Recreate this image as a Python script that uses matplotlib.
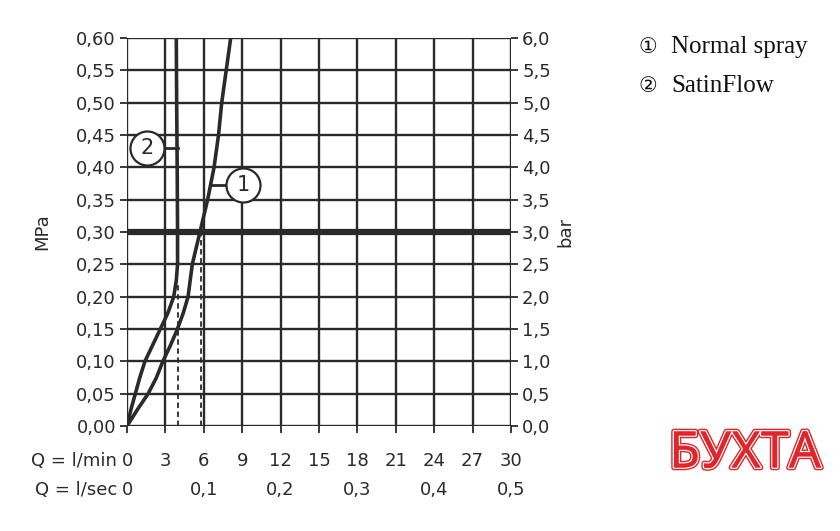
"""Durchflussdiagramm - Druck (MPa / bar) gegen Durchfluss (l/min)"""

import matplotlib
matplotlib.use("Agg")
import matplotlib.pyplot as plt
import matplotlib.patheffects as pe

plt.rcParams["font.family"] = ["DejaVu Sans"]

# Kurve 1: Normal spray (l/min, MPa)
NORMAL_Q = [0.0, 0.8, 1.65, 2.3, 2.8, 3.4, 3.9, 4.4, 4.77, 5.1, 5.7, 6.3, 6.8, 7.15, 7.4, 7.75, 8.1]
NORMAL_P = [0.0, 0.025, 0.05, 0.075, 0.10, 0.125, 0.148, 0.175, 0.20, 0.25, 0.30, 0.35, 0.40, 0.45, 0.50, 0.55, 0.60]

# Kurve 2: SatinFlow
SATIN_Q = [0.0, 0.3, 0.65, 1.0, 1.4, 2.0, 2.6, 3.2, 3.65, 3.85, 3.95, 3.95, 3.92, 3.88, 3.85]
SATIN_P = [0.0, 0.025, 0.05, 0.075, 0.10, 0.125, 0.15, 0.175, 0.20, 0.225, 0.25, 0.30, 0.40, 0.50, 0.60]

# Hilfslinien bei 0,3 MPa
DASH_Q = [3.95, 5.8]
DASH_P = [0.22, 0.30]
REF_P = 0.30

MIN_TICKS = [0, 3, 6, 9, 12, 15, 18, 21, 24, 27, 30]
SEC_TICKS = [0, 6, 12, 18, 24, 30]
SEC_LABELS = ["0", "0,1", "0,2", "0,3", "0,4", "0,5"]
MPA_TICKS = [i * 0.05 for i in range(13)]
BAR_TICKS = [i * 0.5 for i in range(13)]

LEGEND_NUM = ["①", "②"]
LEGEND = ["Normal spray", "SatinFlow"]

DARK = "#2a2a2a"

fig = plt.figure(figsize=(8.4, 5.31), dpi=100)
ax = fig.add_axes([0.1512, 0.1977, 0.4571, 0.7307])
ax.set_xlim(0, 30)
ax.set_ylim(0, 0.60)

for q in MIN_TICKS:
    ax.axvline(q, color=DARK, lw=1.7, zorder=1)
for p in MPA_TICKS:
    ax.axhline(p, color=DARK, lw=1.7, zorder=1)
ax.axhline(REF_P, color=DARK, lw=4.5, zorder=3)

for q, p in zip(DASH_Q, DASH_P):
    ax.plot([q, q], [0, p], color=DARK, lw=1.3, ls=(0, (3, 2)), zorder=2)

ax.plot(NORMAL_Q, NORMAL_P, color=DARK, lw=2.6, zorder=4, solid_capstyle="butt")
ax.plot(SATIN_Q, SATIN_P, color=DARK, lw=2.6, zorder=4, solid_capstyle="butt")

# Kreis-Markierungen mit Führungslinie
for num, cx, cy, lx0, lx1 in [("2", 1.55, 0.43, 2.7, 3.95),
                              ("1", 9.05, 0.373, 6.5, 7.9)]:
    ax.plot([lx0, lx1], [cy, cy], color=DARK, lw=2.0, zorder=4, clip_on=False)
    ax.plot([cx], [cy], marker="o", markersize=24.5, markerfacecolor="white",
            markeredgecolor=DARK, markeredgewidth=1.6, zorder=5, clip_on=False)
    ax.text(cx, cy, num, ha="center", va="center", fontsize=15, color=DARK, zorder=6)

for s in ax.spines.values():
    s.set_visible(False)

ax.set_xticks(MIN_TICKS)
ax.set_xticklabels([])
ax.set_yticks(MPA_TICKS)
ax.set_yticklabels([f"{p:.2f}".replace(".", ",") for p in MPA_TICKS], fontsize=13, color=DARK)
ax.tick_params(axis="both", direction="out", length=5, width=1.3, color=DARK, pad=3)
ax.set_ylabel("MPa", fontsize=13, color=DARK, labelpad=18)

ax2 = ax.twinx()
ax2.set_ylim(0, 6.0)
ax2.set_yticks(BAR_TICKS)
ax2.set_yticklabels([f"{b:.1f}".replace(".", ",") for b in BAR_TICKS], fontsize=13, color=DARK)
ax2.tick_params(axis="y", direction="out", length=5, width=1.3, color=DARK, pad=3)
ax2.set_ylabel("bar", fontsize=13, color=DARK, labelpad=4)
for s in ax2.spines.values():
    s.set_visible(False)

# Durchfluss-Achsenbeschriftung in zwei Zeilen
trans = ax.get_xaxis_transform()
for q in MIN_TICKS:
    ax.text(q, -0.09, str(q), transform=trans, ha="center", va="center", fontsize=13, color=DARK)
for q, lab in zip(SEC_TICKS, SEC_LABELS):
    ax.text(q, -0.165, lab, transform=trans, ha="center", va="center", fontsize=13, color=DARK)
ax.text(-0.8, -0.09, "Q = l/min", transform=trans, ha="right", va="center", fontsize=13, color=DARK)
ax.text(-0.8, -0.165, "Q = l/sec", transform=trans, ha="right", va="center", fontsize=13, color=DARK)

for i, (num, lab) in enumerate(zip(LEGEND_NUM, LEGEND)):
    y = 0.9115 - i * 0.0735
    fig.text(0.760, y, num, fontsize=15, color="#111111", va="center", ha="left")
    fig.text(0.799, y, lab, fontsize=18, color="#111111",
             family=["Liberation Serif"], va="center", ha="left")

# Logo unten rechts, Breite auf ca. 155 px angepasst
logo = fig.text(0.887, 0.145, "БУХТА", fontsize=40, fontweight="black", color="#e0262b",
                family=["Noto Sans"], fontstretch="condensed", ha="center", va="center")
fig.canvas.draw()
w = logo.get_window_extent().width
logo.set_fontsize(40 * 152 / w)
logo.set_path_effects([pe.withStroke(linewidth=4, foreground="#e0262b"),
                       pe.withStroke(linewidth=2.0, foreground="white"),
                       pe.Normal()])

fig.savefig("out.png", dpi=100)
